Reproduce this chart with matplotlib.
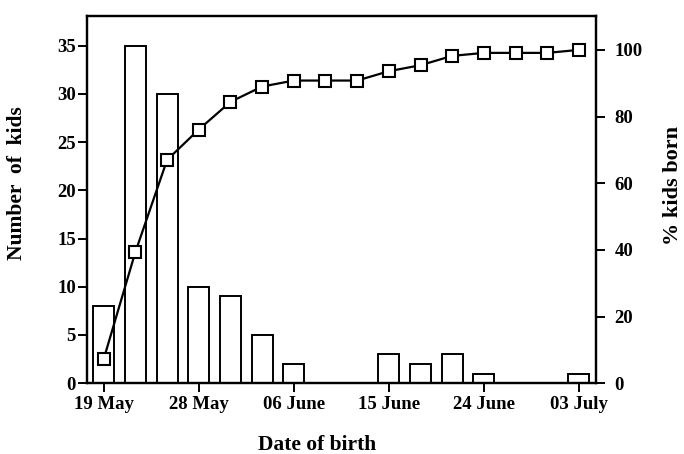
import matplotlib.pyplot as plt

plt.rcParams["font.family"] = ["Liberation Serif", "DejaVu Serif"]
plt.rcParams["font.weight"] = "bold"

# days counted from 19 May, one bin every 3 days
days = [0, 3, 6, 9, 12, 15, 18, 21, 24, 27, 30, 33, 36, 39, 42, 45]
kids = [8, 35, 30, 10, 9, 5, 2, 0, 0, 3, 2, 3, 1, 0, 0, 1]
pct_born = [7.3, 39.4, 67.0, 76.1, 84.4, 89.0, 90.8, 90.8, 90.8, 93.6, 95.4, 98.2, 99.1, 99.1, 99.1, 100]

tick_days = [0, 9, 18, 27, 36, 45]
tick_labels = ["19 May", "28 May", "06 June", "15 June", "24 June", "03 July"]

fig = plt.figure(figsize=(6.84, 4.54), dpi=100)
ax = fig.add_axes([0.127, 0.156, 0.744, 0.809])

ax.bar(days, kids, width=2.0, color="white", edgecolor="black", linewidth=1.4, zorder=2)
ax.set_xlim(-1.6, 46.6)
ax.set_ylim(0, 38.1)
ax.set_yticks(range(0, 40, 5))
ax.set_xticks(tick_days)
ax.set_xticklabels(tick_labels)
ax.set_ylabel("Number  of  kids", fontsize=15.5, fontweight="bold", va="center")
ax.yaxis.set_label_coords(-0.1375, 0.545)
ax.set_xlabel("Date of birth", fontsize=15.5, fontweight="bold", va="center")
ax.xaxis.set_label_coords(0.452, -0.169)

ax2 = ax.twinx()
ax2.plot(days, pct_born, color="black", linewidth=1.6, marker="s", markersize=9,
         markerfacecolor="white", markeredgecolor="black", markeredgewidth=1.5, zorder=3)
ax2.set_ylim(0, 110.2)
ax2.set_yticks(range(0, 101, 20))
ax2.set_ylabel("% kids born", fontsize=16, fontweight="bold", va="center")
ax2.yaxis.set_label_coords(1.151, 0.537)

ax.tick_params(axis="y", pad=1.5)
ax.tick_params(axis="x", pad=3)
ax2.tick_params(axis="y", pad=7)
for a in (ax, ax2):
    a.tick_params(axis="both", labelsize=13.5, width=1.4, length=6.5, direction="out")
    for s in a.spines.values():
        s.set_linewidth(1.6)
    for lab in a.get_xticklabels() + a.get_yticklabels():
        lab.set_fontweight("bold")

fig.savefig("out.png", dpi=100)
